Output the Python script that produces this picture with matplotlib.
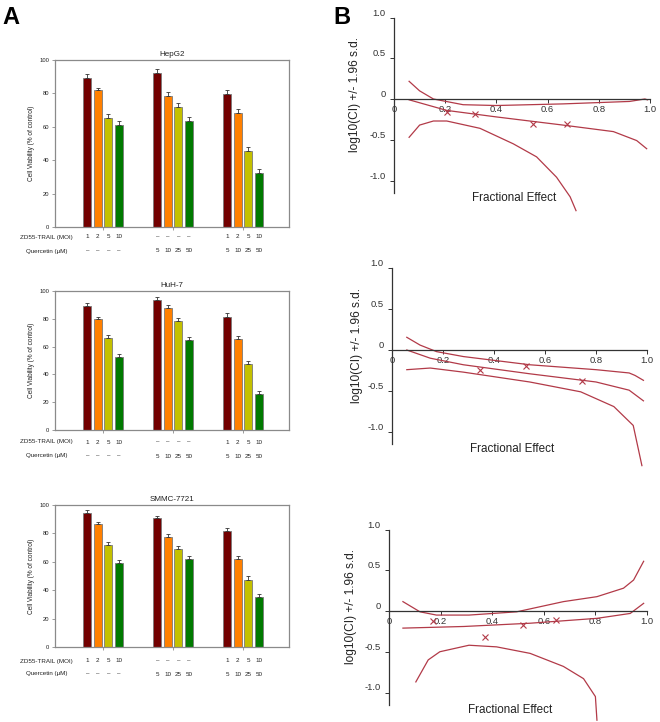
import matplotlib
matplotlib.use("Agg")
import matplotlib.pyplot as plt
import matplotlib.transforms as mtransforms

plt.rcParams['font.family'] = ['Liberation Sans', 'DejaVu Sans']

W, H = 660, 722

# ---------------- Data: panel A ----------------
cell_lines = ['HepG2', 'HuH-7', 'SMMC-7721']
zd55_labels = ['1', '2', '5', '10', '–', '–', '–', '–', '1', '2', '5', '10']
quercetin_labels = ['–', '–', '–', '–', '5', '10', '25', '50', '5', '10', '25', '50']
hepg2_values = [89.5, 82, 65.5, 61, 92.5, 78.5, 71.8, 63.5, 79.5, 68.3, 45.5, 32.6]
hepg2_err = [2.0, 1.5, 2.0, 2.2, 2.3, 2.3, 2.2, 2.2, 2.5, 2.2, 2.3, 2.3]
huh7_values = [89.5, 79.5, 66.5, 52.5, 93.8, 87.5, 78.6, 64.5, 81.5, 65.5, 47.5, 25.7]
huh7_err = [1.8, 1.5, 1.8, 2.2, 1.8, 2.3, 2.2, 2.2, 2.5, 1.8, 2.2, 2.3]
smmc_values = [94.5, 86.5, 72, 59, 90.5, 77.5, 69, 62, 81.5, 62, 47.5, 35]
smmc_err = [1.8, 1.8, 1.8, 2.2, 2.0, 2.0, 2.2, 2.0, 2.2, 2.0, 2.2, 2.3]
bar_colors = ['#720000', '#FF8000', '#C4C000', '#007A00']
viability_ticks = [0, 20, 40, 60, 80, 100]

# ---------------- Data: panel B ----------------
ci_ticks_y = [1.0, 0.5, 0, -0.5, -1.0]
ci_ticklabels_y = ['1.0', '0.5', '0', '-0.5', '-1.0']
fa_ticks = [0, 0.2, 0.4, 0.6, 0.8, 1.0]
fa_ticklabels = ['0', '0.2', '0.4', '0.6', '0.8', '1.0']

# HepG2 combination
b1_upper_fa = [0.059, 0.10, 0.154, 0.27, 0.40, 0.66, 0.92, 0.98, 0.99]
b1_upper_ci = [0.217, 0.10, 0.0, -0.07, -0.08, -0.06, -0.03, 0.0, -0.01]
b1_mid_fa = [0.059, 0.206, 0.40, 0.66, 0.857, 0.948, 0.987]
b1_mid_ci = [-0.01, -0.14, -0.22, -0.32, -0.40, -0.51, -0.61]
b1_low_fa = [0.059, 0.10, 0.154, 0.206, 0.336, 0.466, 0.557, 0.635, 0.688, 0.711]
b1_low_ci = [-0.47, -0.32, -0.27, -0.27, -0.36, -0.55, -0.71, -0.96, -1.20, -1.37]
b1_pts_fa = [0.208, 0.316, 0.544, 0.674]
b1_pts_ci = [-0.16, -0.18, -0.31, -0.31]

# HuH-7 combination
b2_upper_fa = [0.058, 0.11, 0.175, 0.28, 0.54, 0.80, 0.93, 0.953, 0.986]
b2_upper_ci = [0.155, 0.06, -0.02, -0.08, -0.18, -0.24, -0.28, -0.31, -0.37]
b2_mid_fa = [0.058, 0.15, 0.28, 0.54, 0.80, 0.93, 0.986]
b2_mid_ci = [0.0, -0.10, -0.18, -0.29, -0.39, -0.49, -0.62]
b2_low_fa = [0.058, 0.15, 0.28, 0.54, 0.74, 0.87, 0.946, 0.98]
b2_low_ci = [-0.24, -0.22, -0.27, -0.39, -0.51, -0.69, -0.92, -1.41]
b2_pts_fa = [0.345, 0.525, 0.744]
b2_pts_ci = [-0.24, -0.20, -0.38]

# SMMC-7721 combination
b3_upper_fa = [0.054, 0.12, 0.184, 0.31, 0.495, 0.676, 0.806, 0.909, 0.948, 0.987]
b3_upper_ci = [0.115, -0.01, -0.05, -0.05, -0.01, 0.115, 0.176, 0.28, 0.38, 0.61]
b3_mid_fa = [0.054, 0.29, 0.547, 0.806, 0.935, 0.987]
b3_mid_ci = [-0.21, -0.19, -0.15, -0.09, -0.03, 0.094]
b3_low_fa = [0.104, 0.152, 0.197, 0.31, 0.417, 0.547, 0.676, 0.754, 0.80, 0.806]
b3_low_ci = [-0.87, -0.60, -0.50, -0.42, -0.44, -0.52, -0.68, -0.83, -1.05, -1.34]
b3_pts_fa = [0.171, 0.374, 0.518, 0.648]
b3_pts_ci = [-0.12, -0.32, -0.17, -0.11]

fig = plt.figure(figsize=(W / 100, H / 100), dpi=100)


def add_ax(left, top, right, bottom):
    return fig.add_axes([left / W, 1 - bottom / H, (right - left) / W, (bottom - top) / H])


def fy(py):
    return 1 - py / H


def fx(px):
    return px / W


# ---------------- Panel A ----------------
a_boxes = [(55, 60, 289, 227), (55, 291, 289, 430), (55, 505, 289, 647)]
a_values = [hepg2_values, huh7_values, smmc_values]
a_errs = [hepg2_err, huh7_err, smmc_err]
row1_offsets = [10, 12, 14]
row2_offsets = [24, 26, 27]
group_centers = [1, 2, 3]
offsets = [-0.225, -0.075, 0.075, 0.225]
frame_col = '#8a8a8a'

for k in range(3):
    l, t, r, b = a_boxes[k]
    ax = add_ax(l, t, r, b)
    xs, cols = [], []
    for g, gc in enumerate(group_centers):
        for j, off in enumerate(offsets):
            xs.append(gc + off)
            cols.append(bar_colors[j])
    vals = a_values[k]
    errs = a_errs[k]
    ax.bar(xs, vals, width=0.12, color=cols, edgecolor='#7a7a7a', linewidth=0.6, zorder=2)
    ax.errorbar(xs, vals, yerr=[[0] * len(errs), errs], fmt='none', ecolor='#333333',
                elinewidth=0.6, capsize=1.6, capthick=0.6, zorder=3)
    ax.set_xlim(0.314, 3.657)
    ax.set_ylim(0, 100)
    ax.set_yticks(viability_ticks)
    ax.set_xticks(group_centers)
    ax.set_xticklabels([])
    ax.tick_params(axis='y', labelsize=4.2, length=2.5, width=0.6, color=frame_col, pad=1.5,
                   labelcolor='#222222')
    ax.tick_params(axis='x', length=2.5, width=0.6, color=frame_col)
    for s in ax.spines.values():
        s.set_color(frame_col)
        s.set_linewidth(0.9)
    ax.set_ylabel('Cell Viability (% of control)', fontsize=4.7, labelpad=3, color='#222222')
    ax.set_title(cell_lines[k], fontsize=5.8, pad=3, color='#222222')
    trans = mtransforms.blended_transform_factory(ax.transData, fig.transFigure)
    for i, x in enumerate(xs):
        ax.text(x, fy(b + row1_offsets[k]), zd55_labels[i], transform=trans, ha='center',
                va='center', fontsize=4.5, color='#222222', clip_on=False)
        ax.text(x, fy(b + row2_offsets[k]), quercetin_labels[i], transform=trans, ha='center',
                va='center', fontsize=4.5, color='#222222', clip_on=False)
    fig.text(fx(46), fy(b + row1_offsets[k]), 'ZD55-TRAIL (MOI)', ha='center', va='center',
             fontsize=4.5, color='#222222')
    fig.text(fx(47), fy(b + row2_offsets[k]), 'Quercetin (μM)', ha='center', va='center',
             fontsize=4.5, color='#222222')

fig.text(fx(2), fy(17), 'A', fontsize=17, fontweight='bold', ha='left', va='center')
fig.text(fx(333), fy(17), 'B', fontsize=17, fontweight='bold', ha='left', va='center')

# ---------------- Panel B ----------------
# (x of fa=0, px per fa unit, y of ci=0, px per ci unit, ylim bottom)
b_geo = [(394, 256, 99, 81.5, -1.45), (392, 255, 350, 82, -1.45), (389, 258, 611, 81.5, -1.35)]
b_curves = [
    (b1_upper_fa, b1_upper_ci, b1_mid_fa, b1_mid_ci, b1_low_fa, b1_low_ci, b1_pts_fa, b1_pts_ci),
    (b2_upper_fa, b2_upper_ci, b2_mid_fa, b2_mid_ci, b2_low_fa, b2_low_ci, b2_pts_fa, b2_pts_ci),
    (b3_upper_fa, b3_upper_ci, b3_mid_fa, b3_mid_ci, b3_low_fa, b3_low_ci, b3_pts_fa, b3_pts_ci),
]
ylabel_x = [355, 357, 351]
line_col = '#B23A48'

for k in range(3):
    x0, sx, y0, sy, ybot = b_geo[k]
    ytop = 1.05
    xmax = 1.02
    ax = add_ax(x0, y0 - ytop * sy, x0 + xmax * sx, y0 - ybot * sy)
    ax.set_xlim(0, xmax)
    ax.set_ylim(ybot, ytop)
    ax.patch.set_alpha(0)
    uf, uc, mf, mc, lf, lc, pf, pc = b_curves[k]
    for fa, ci in ((uf, uc), (mf, mc), (lf, lc)):
        ax.plot(fa, ci, color=line_col, lw=0.9, clip_on=False)
    ax.plot(pf, pc, linestyle='none', marker='x', ms=5, mew=0.8, color=line_col, clip_on=False)
    ax.spines['right'].set_visible(False)
    ax.spines['top'].set_visible(False)
    ax.spines['bottom'].set_position(('data', 0))
    ax.spines['bottom'].set_bounds(0, 1.0)
    ax.spines['left'].set_bounds(-1.15, 1.0)
    for s in ('bottom', 'left'):
        ax.spines[s].set_linewidth(0.9)
        ax.spines[s].set_color('#333333')
    ax.set_xticks(fa_ticks)
    ax.set_xticklabels(fa_ticklabels)
    ax.set_yticks(ci_ticks_y)
    ax.set_yticklabels(ci_ticklabels_y)
    ax.tick_params(axis='x', labelsize=6.8, length=3, width=0.7, pad=1, colors='#333333')
    ax.tick_params(axis='y', labelsize=6.8, length=3, width=0.7, pad=3, colors='#333333')
    for lab in ax.get_yticklabels():
        lab.set_va('bottom')
    ax.text(0.47, -1.21, 'Fractional Effect', ha='center', va='center', fontsize=8.4,
            color='#222222', clip_on=False)
    fig.text(fx(ylabel_x[k]), fy(y0 - 0.05 * sy), 'log10(CI) +/- 1.96 s.d.', rotation=90,
             ha='center', va='center', fontsize=8.6, color='#222222')

fig.savefig('out.png', dpi=100)
